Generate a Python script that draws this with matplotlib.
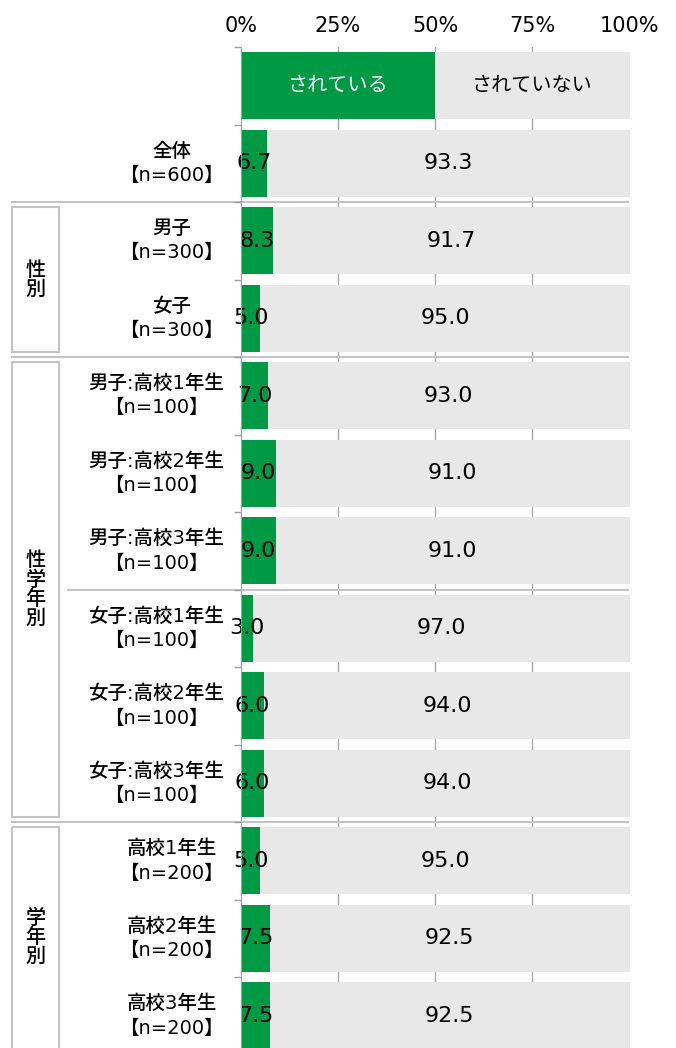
import matplotlib.pyplot as plt
from matplotlib.patches import Rectangle

plt.rcParams['font.family'] = ['DejaVu Sans', 'Noto Sans CJK JP']

labels = ['全体\n【n=600】', '男子\n【n=300】', '女子\n【n=300】',
          '男子:高校1年生\n【n=100】', '男子:高校2年生\n【n=100】', '男子:高校3年生\n【n=100】',
          '女子:高校1年生\n【n=100】', '女子:高校2年生\n【n=100】', '女子:高校3年生\n【n=100】',
          '高校1年生\n【n=200】', '高校2年生\n【n=200】', '高校3年生\n【n=200】']
yes = [6.7, 8.3, 5.0, 7.0, 9.0, 9.0, 3.0, 6.0, 6.0, 5.0, 7.5, 7.5]
no = [93.3, 91.7, 95.0, 93.0, 91.0, 91.0, 97.0, 94.0, 94.0, 95.0, 92.5, 92.5]
legend_names = ['されている', 'されていない']
groups = [('性\n別', 2, 3), ('性\n学\n年\n別', 4, 9), ('学\n年\n別', 10, 12)]
separators = [(1.5, 'wide'), (3.5, 'wide'), (6.5, 'narrow'), (9.5, 'wide')]

green = '#009944'
grey = '#E8E8E8'
line_c = '#C4C4C4'
cjk = ['Noto Sans CJK JP', 'DejaVu Sans']

W, H = 676, 1048
fig = plt.figure(figsize=(W / 100, H / 100), dpi=100)
x0, x100 = 241, 629.5
top_px = 47
ax = fig.add_axes([x0 / W, 0, (x100 - x0) / W, (H - top_px) / H])
row0, step = 86, 77.5
ax.set_xlim(0, 100)
ax.set_ylim((H - row0) / step, -0.5)


def px2x(px):
    return (px - x0) / (x100 - x0) * 100


bh = 0.865
# header legend bar
ax.barh(0, 50, height=bh, color=green, zorder=2)
ax.barh(0, 50, left=50, height=bh, color=grey, zorder=2)
ax.text(25, 0, legend_names[0], ha='center', va='center', color='white', fontsize=14.5,
        family=cjk, zorder=3)
ax.text(75, 0, legend_names[1], ha='center', va='center', color='black', fontsize=14.5,
        family=cjk, zorder=3)

rows = list(range(1, len(labels) + 1))
ax.barh(rows, yes, height=bh, color=green, zorder=2)
ax.barh(rows, no, left=yes, height=bh, color=grey, zorder=2)
for r, a, b, lab in zip(rows, yes, no, labels):
    ax.text(a / 2, r, f'{a:.1f}', ha='center', va='center', fontsize=16, zorder=3)
    ax.text(a + b / 2, r, f'{b:.1f}', ha='center', va='center', fontsize=16, zorder=3)
    ax.text(px2x(224), r, lab, ha='right', va='center', multialignment='center',
            fontsize=14, fontweight='medium', linespacing=1.35, clip_on=False)

for g in (25, 50, 75):
    ax.axvline(g, color='#A8A8A8', lw=1, zorder=0)

for y, kind in separators:
    start = px2x(12) if kind == 'wide' else px2x(68)
    ax.plot([start, 99.5], [y, y], color=line_c, lw=1.5, clip_on=False, zorder=1)

inset = 5 / step
for name, r1, r2 in groups:
    yt = r1 - 0.5 + inset
    yb = r2 + 0.5 - inset
    if r2 == len(labels):
        yb = r2 + 1.0
    ax.add_patch(Rectangle((px2x(12), yt), px2x(59) - px2x(12), yb - yt,
                           fill=False, edgecolor=line_c, lw=1.5, clip_on=False))
    ax.text(px2x(35.5), (min(yb, (H - row0) / step) + yt) / 2, name, ha='center',
            va='center', fontsize=14.5, family=cjk, fontweight='medium',
            linespacing=1.0, clip_on=False)

ax.xaxis.tick_top()
ax.set_xticks([0, 25, 50, 75, 100])
ax.set_xticklabels(['0%', '25%', '50%', '75%', '100%'], fontsize=15)
ax.tick_params(axis='x', length=0, pad=8)
ax.set_yticks([i - 0.5 for i in range(0, len(labels) + 1)])
ax.set_yticklabels([])
ax.tick_params(axis='y', length=5, color='#A0A0A0', width=1)
for s in ('top', 'right', 'bottom'):
    ax.spines[s].set_visible(False)
ax.spines['left'].set_color('#A0A0A0')
ax.spines['left'].set_zorder(4)

fig.savefig('out.png', dpi=100)
